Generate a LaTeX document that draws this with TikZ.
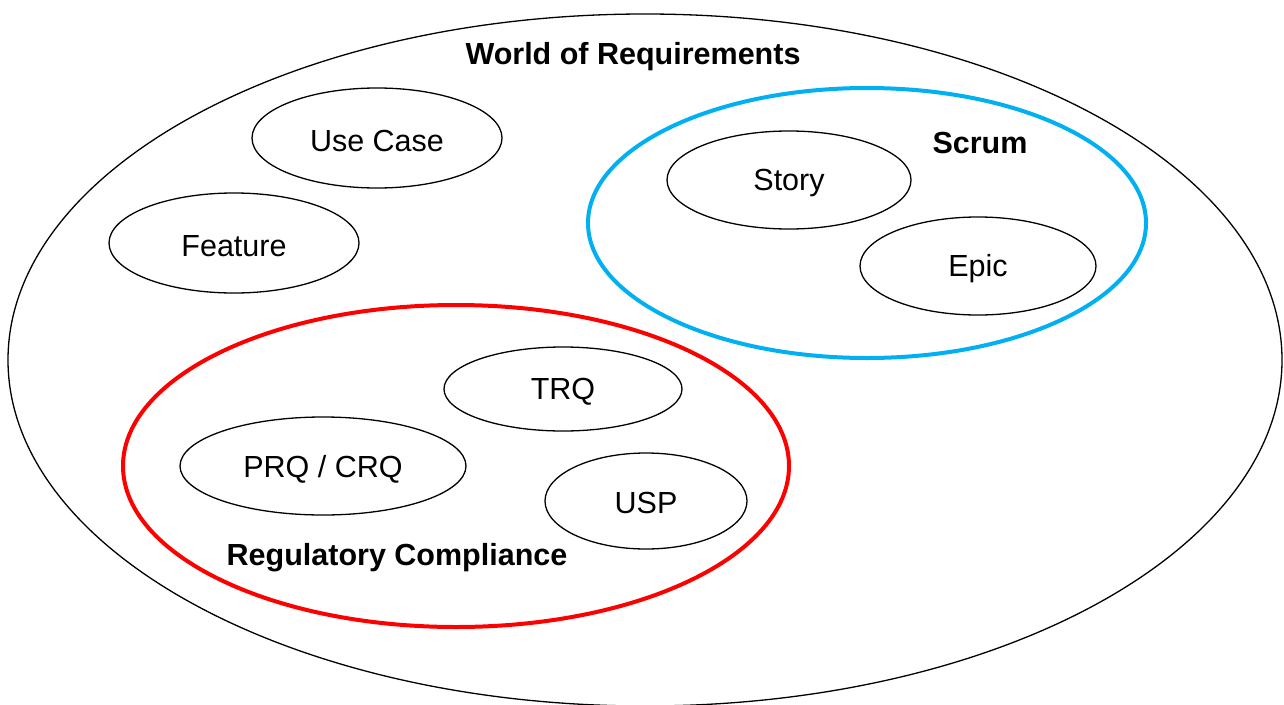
\documentclass[tikz,border=0pt]{standalone}
\usepackage{fontspec}
\setmainfont{Liberation Sans}
\definecolor{scrumblue}{RGB}{0,176,240}
\definecolor{regred}{RGB}{255,0,0}
\begin{document}
\begin{tikzpicture}[x=1pt,y=-1pt,
  blob/.style={draw=black,line width=1.3pt},
  term/.style={font=\fontsize{30.5}{34}\selectfont,yshift=-3pt},
  heading/.style={font=\fontsize{30.5}{34}\selectfont\bfseries,yshift=-3pt}]
\useasboundingbox (0,0) rectangle (1284,704);
% outer world
\draw[blob] (645,360) ellipse [x radius=637, y radius=346];
\node[heading] (world) at (633,54) {World of Requirements};
% free-standing requirement types
\draw[blob] (377,138) ellipse [x radius=125, y radius=50];
\node[term] (usecase) at (377,138) {Use Case};
\draw[blob] (234,243) ellipse [x radius=125, y radius=50];
\node[term] (feature) at (234,243) {Feature};
% scrum group
\draw[scrumblue,line width=4pt] (867,223) ellipse [x radius=279, y radius=135];
\node[heading] (scrum) at (980,140) {Scrum};
\draw[blob] (789,180) ellipse [x radius=122, y radius=49];
\node[term] (story) at (789,180) {Story};
\draw[blob] (978,266) ellipse [x radius=118, y radius=49];
\node[term] (epic) at (978,266) {Epic};
% regulatory group
\draw[regred,line width=4pt] (456,466) ellipse [x radius=333, y radius=161];
\node[heading] (reg) at (397,555) {Regulatory Compliance};
\draw[blob] (563,389) ellipse [x radius=119, y radius=42];
\node[term] (trq) at (563,389) {TRQ};
\draw[blob] (323,466) ellipse [x radius=143, y radius=49];
\node[term] (prq) at (323,466) {PRQ / CRQ};
\draw[blob] (646,501) ellipse [x radius=101, y radius=48];
\node[term] (usp) at (646,500) {USP};
\end{tikzpicture}
\end{document}
